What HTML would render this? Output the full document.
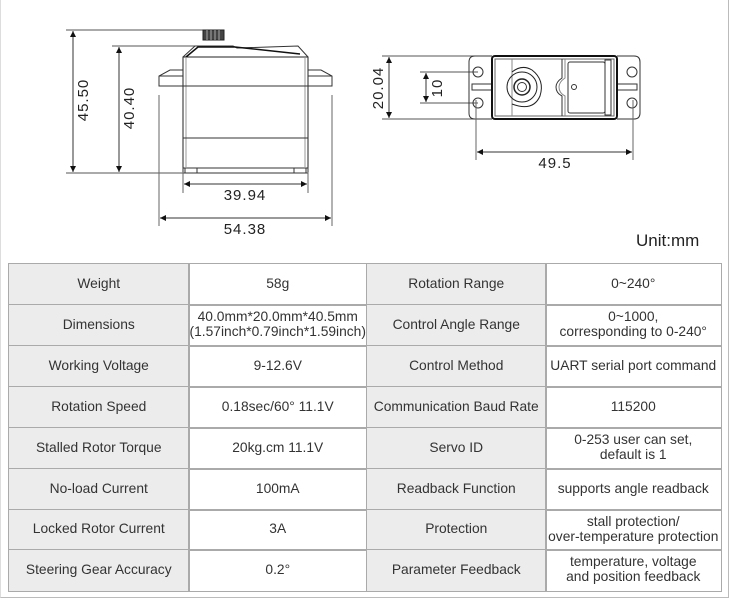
<!DOCTYPE html>
<html><head><meta charset="utf-8"><style>
body{margin:0;width:730px;height:600px;background:#fff;position:relative;overflow:hidden;font-family:"Liberation Sans",sans-serif}
.frame{position:absolute;left:0;top:0;width:727px;height:597px;border-right:1px solid #bbb;border-bottom:1px solid #bbb;border-left:1px solid #ddd}
svg{position:absolute;left:0;top:0}
.c{position:absolute;display:flex;align-items:center;justify-content:center;text-align:center;font-size:13.8px;color:#333;line-height:15px;box-sizing:border-box}
.g{background:#ececec}
</style></head><body>
<div class="frame"></div>
<svg width="730" height="260" viewBox="0 0 730 260">
<defs><marker id="a" viewBox="0 0 10 10" refX="10" refY="5" markerWidth="9" markerHeight="6" orient="auto-start-reverse"><path d="M0,0L10,5L0,10z" fill="#111"/></marker></defs>
<g stroke="#333" stroke-width="1" fill="none">
<line x1="66" y1="30" x2="212" y2="30" stroke="#555"/>
<line x1="66" y1="173" x2="185" y2="173" stroke="#555"/>
<line x1="112" y1="46" x2="198" y2="46" stroke="#555"/>
<line x1="73" y1="31" x2="73" y2="172" marker-start="url(#a)" marker-end="url(#a)"/>
<line x1="119" y1="47" x2="119" y2="172" marker-start="url(#a)" marker-end="url(#a)"/>
<rect x="183" y="57" width="125" height="111" stroke="#222"/>
<line x1="186" y1="58" x2="186" y2="167" stroke="#999"/>
<line x1="305" y1="58" x2="305" y2="167" stroke="#999"/>
<line x1="183" y1="86" x2="308" y2="86"/>
<line x1="183" y1="138" x2="308" y2="138"/>
<path d="M183,57 L195,46 L233,46 L237,48 L298,46 L308,57"/>
<path d="M186,57 L198,47 L235,47 L300,54" stroke="#111" stroke-width="1.5"/>
<rect x="203" y="30" width="21" height="10" fill="#444" stroke="#222"/>
<line x1="207" y1="30" x2="207" y2="40" stroke="#aaa"/><line x1="211" y1="30" x2="211" y2="40" stroke="#aaa"/><line x1="215" y1="30" x2="215" y2="40" stroke="#aaa"/><line x1="219" y1="30" x2="219" y2="40" stroke="#aaa"/>
<rect x="183" y="168" width="125" height="5"/>
<rect x="185" y="168" width="12" height="5"/><rect x="294" y="168" width="12" height="5"/>
<path d="M183,70 L170,70 L159,76 L159,86 L183,86"/>
<line x1="159" y1="76" x2="183" y2="76"/>
<path d="M308,70 L321,70 L332,76 L332,86 L308,86"/>
<line x1="308" y1="76" x2="332" y2="76"/>
<line x1="159" y1="95" x2="159" y2="226" stroke="#666"/>
<line x1="332" y1="95" x2="332" y2="226" stroke="#666"/>
<line x1="183" y1="172" x2="183" y2="193" stroke="#666"/>
<line x1="308" y1="172" x2="308" y2="193" stroke="#666"/>
<line x1="184" y1="184" x2="307" y2="184" marker-start="url(#a)" marker-end="url(#a)"/>
<line x1="160" y1="218" x2="331" y2="218" marker-start="url(#a)" marker-end="url(#a)"/>
<line x1="382" y1="56" x2="492" y2="56" stroke="#555"/>
<line x1="382" y1="119" x2="492" y2="119" stroke="#555"/>
<line x1="389" y1="57" x2="389" y2="118" marker-start="url(#a)" marker-end="url(#a)"/>
<line x1="420" y1="72" x2="478" y2="72" stroke="#555"/>
<line x1="420" y1="103" x2="478" y2="103" stroke="#555"/>
<line x1="426" y1="73" x2="426" y2="102" marker-start="url(#a)" marker-end="url(#a)"/>
<path d="M492,56 L475,56 Q469,56 469,62 L469,113 Q469,119 475,119 L492,119"/>
<path d="M617,56 L634,56 Q640,56 640,62 L640,113 Q640,119 634,119 L617,119"/>
<circle cx="478" cy="72" r="5"/><circle cx="478" cy="103" r="5"/>
<circle cx="632" cy="72" r="5"/><circle cx="632" cy="103" r="5"/>
<rect x="472" y="84" width="20" height="6"/><rect x="617" y="84" width="20" height="6"/>
<rect x="492" y="56" width="125" height="63" rx="3" stroke="#111" stroke-width="2"/>
<rect x="495" y="59" width="119" height="57" stroke="#666"/>
<line x1="512" y1="59" x2="512" y2="116" stroke="#888"/>
<path d="M512,72 Q522,64 532,70 Q545,80 540,96 Q533,112 512,104" stroke="#222"/>
<circle cx="522" cy="87" r="15" stroke="#222"/>
<circle cx="522" cy="87" r="8" stroke="#222" stroke-width="1.5"/>
<circle cx="522" cy="87" r="4.5"/>
<path d="M562,59 L562,78 Q556,82 556,87 Q556,93 562,96 L562,116"/>
<path d="M565,59 L565,78 Q559,82 559,87 Q559,93 565,96 L565,116" stroke="#888"/>
<rect x="568" y="62" width="37" height="51" rx="2"/>
<rect x="605" y="60" width="6" height="55"/>
<circle cx="574" cy="87" r="2.5"/>
<line x1="476" y1="100" x2="476" y2="160" stroke="#666"/>
<line x1="633" y1="100" x2="633" y2="160" stroke="#666"/>
<line x1="477" y1="152" x2="632" y2="152" marker-start="url(#a)" marker-end="url(#a)"/>
</g>
<g font-family="Liberation Sans,sans-serif" font-size="15" fill="#222" letter-spacing="1">
<text x="245" y="200" text-anchor="middle">39.94</text>
<text x="245" y="234" text-anchor="middle">54.38</text>
<text x="555" y="168" text-anchor="middle">49.5</text>
<text transform="translate(88,100) rotate(-90)" text-anchor="middle">45.50</text>
<text transform="translate(134,108) rotate(-90)" text-anchor="middle">40.40</text>
<text transform="translate(383,88) rotate(-90)" text-anchor="middle">20.04</text>
<text transform="translate(442,88) rotate(-90)" text-anchor="middle">10</text>
</g>
<text x="636" y="246" font-family="Liberation Sans,sans-serif" font-size="17" fill="#222">Unit:mm</text>
</svg>
<div id="t"></div>
<script>
var cols=[8,188,366,545,720];
var rows=[263,304,345,386,427,468,509,549,590];
var d=[["Weight","58g","Rotation Range","0~240°"],
["Dimensions","40.0mm*20.0mm*40.5mm<br>(1.57inch*0.79inch*1.59inch)","Control Angle Range","0~1000,<br>corresponding to 0-240°"],
["Working Voltage","9-12.6V","Control Method","UART serial port command"],
["Rotation Speed","0.18sec/60° 11.1V","Communication Baud Rate","115200"],
["Stalled Rotor Torque","20kg.cm 11.1V","Servo ID","0-253 user can set,<br>default is 1"],
["No-load Current","100mA","Readback Function","supports angle readback"],
["Locked Rotor Current","3A","Protection","stall protection/<br>over-temperature protection"],
["Steering Gear Accuracy","0.2°","Parameter Feedback","temperature, voltage<br>and position feedback"]];
var h="";
for(var r=0;r<8;r++)for(var c=0;c<4;c++){
h+='<div class="c'+(c%2==0?' g':'')+'" style="left:'+cols[c]+'px;top:'+rows[r]+'px;width:'+(cols[c+1]-cols[c]+1.5)+'px;height:'+(rows[r+1]-rows[r]+1.5)+'px;border:1.5px solid #aaa;padding-bottom:2px">'+d[r][c]+'</div>';}
document.getElementById("t").innerHTML=h;
</script>
</body></html>
